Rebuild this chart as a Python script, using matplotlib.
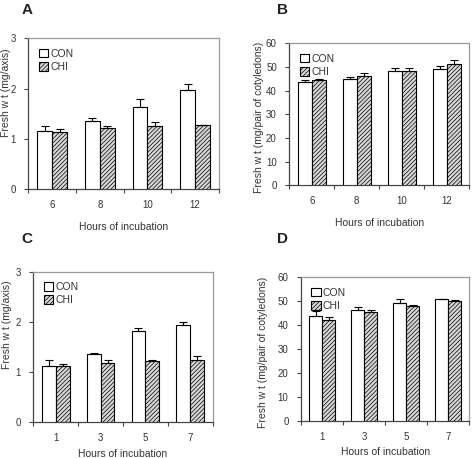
import matplotlib
matplotlib.use("Agg")
import matplotlib.pyplot as plt
import numpy as np

plt.rcParams['font.family'] = ['Liberation Sans', 'DejaVu Sans']
plt.rcParams['hatch.color'] = '#a8a8a8'
plt.rcParams['hatch.linewidth'] = 0.5

# ---- data ----
hours_ab = ['6', '8', '10', '12']
hours_cd = ['1', '3', '5', '7']

a_con = [1.16, 1.36, 1.63, 1.98]
a_con_err = [0.09, 0.05, 0.16, 0.12]
a_chi = [1.13, 1.21, 1.25, 1.27]
a_chi_err = [0.07, 0.04, 0.09, 0.01]

b_con = [43.6, 45.1, 48.3, 49.2]
b_con_err = [0.8, 0.8, 1.3, 1.1]
b_chi = [44.3, 46.2, 48.3, 51.1]
b_chi_err = [0.8, 1.4, 1.3, 1.7]

c_con = [1.12, 1.37, 1.82, 1.93]
c_con_err = [0.12, 0.02, 0.05, 0.06]
c_chi = [1.12, 1.18, 1.22, 1.24]
c_chi_err = [0.04, 0.07, 0.03, 0.09]

d_con = [43.8, 46.3, 49.4, 50.8]
d_con_err = [2.0, 1.2, 1.7, 0.1]
d_chi = [42.2, 45.6, 47.9, 50.3]
d_chi_err = [1.2, 0.8, 0.7, 0.3]

panels = [
    dict(letter='A', labels=hours_ab, con=a_con, ce=a_con_err, chi=a_chi, he=a_chi_err,
         ylim=3, yticks=[0, 1, 2, 3], ylabel='Fresh w t (mg/axis)',
         rect=(28.3, 38.3, 219.0, 189.3), letter_xy=(27, 10), ylab=(11, 0.64), xpad=8),
    dict(letter='B', labels=hours_ab, con=b_con, ce=b_con_err, chi=b_chi, he=b_chi_err,
         ylim=60, yticks=[0, 10, 20, 30, 40, 50, 60], ylabel='Fresh w t (mg/pair of cotyledons)',
         rect=(289.3, 43.3, 469.3, 185.3), letter_xy=(282, 10), ylab=(264, 0.48), xpad=8),
    dict(letter='C', labels=hours_cd, con=c_con, ce=c_con_err, chi=c_chi, he=c_chi_err,
         ylim=3, yticks=[0, 1, 2, 3], ylabel='Fresh w t (mg/axis)',
         rect=(33.3, 271.7, 212.7, 422.3), letter_xy=(27, 239), ylab=(12, 0.645), xpad=4),
    dict(letter='D', labels=hours_cd, con=d_con, ce=d_con_err, chi=d_chi, he=d_chi_err,
         ylim=60, yticks=[0, 10, 20, 30, 40, 50, 60], ylabel='Fresh w t (mg/pair of cotyledons)',
         rect=(301.0, 277.3, 469.3, 421.3), letter_xy=(282, 239), ylab=(268, 0.48), xpad=3.5),
]

W, H = 472, 458
fig = plt.figure(figsize=(W / 100, H / 100), dpi=100)

txt = '#333333'
spine_dark = '#444444'
spine_light = '#999999'
bw = 0.31

for p in panels:
    l, t, r, b = p['rect']
    ax = fig.add_axes([l / W, 1 - b / H, (r - l) / W, (b - t) / H])
    x = np.arange(len(p['labels']))
    n = len(x)
    ax.bar(x - bw / 2, p['con'], bw, color='white', edgecolor='black', linewidth=0.8,
           yerr=[np.zeros(n), p['ce']], error_kw=dict(ecolor='black', elinewidth=0.8,
                                                      capsize=3, capthick=0.8),
           label='CON', zorder=3)
    ax.bar(x + bw / 2, p['chi'], bw, color='#d8d8d8', edgecolor='black', linewidth=0.8,
           hatch='////////', yerr=[np.zeros(n), p['he']],
           error_kw=dict(ecolor='black', elinewidth=0.8, capsize=3, capthick=0.8),
           label='CHI', zorder=3)
    ax.set_xlim(-0.5, n - 0.5)
    ax.set_ylim(0, p['ylim'])
    ax.set_yticks(p['yticks'])
    ax.set_xticks(x)
    ax.set_xticklabels(p['labels'])
    ax.set_xticks(np.arange(-0.5, n), minor=True)
    ax.tick_params(axis='x', which='major', length=0, pad=8, labelsize=7, labelcolor=txt)
    ax.tick_params(axis='x', which='minor', length=3, width=0.8, color=spine_dark, direction='out')
    ax.tick_params(axis='y', length=3, width=0.8, color=spine_dark, labelsize=7,
                   labelcolor=txt, pad=6)
    for s in ['left', 'bottom']:
        ax.spines[s].set_color(spine_dark)
        ax.spines[s].set_linewidth(0.9)
    for s in ['top', 'right']:
        ax.spines[s].set_color(spine_light)
        ax.spines[s].set_linewidth(0.9)
    ax.set_xlabel('Hours of incubation', fontsize=7.5, color=txt, labelpad=p['xpad'])
    ax.set_ylabel(p['ylabel'], fontsize=7.5, color=txt)
    yx, yy = p['ylab']
    ax.yaxis.set_label_coords((yx - l) / (r - l), yy)
    ax.legend(loc='upper left', frameon=False, fontsize=7.5, handlelength=0.9,
              handleheight=0.9, handletextpad=0.2, labelspacing=0.3,
              borderaxespad=0.6, labelcolor=txt)
    lx, ly = p['letter_xy']
    fig.text(lx / W, 1 - ly / H, p['letter'], fontsize=11, fontweight='bold',
             ha='center', va='center', color='#222222')

fig.savefig('out.png', dpi=100, facecolor='white')
